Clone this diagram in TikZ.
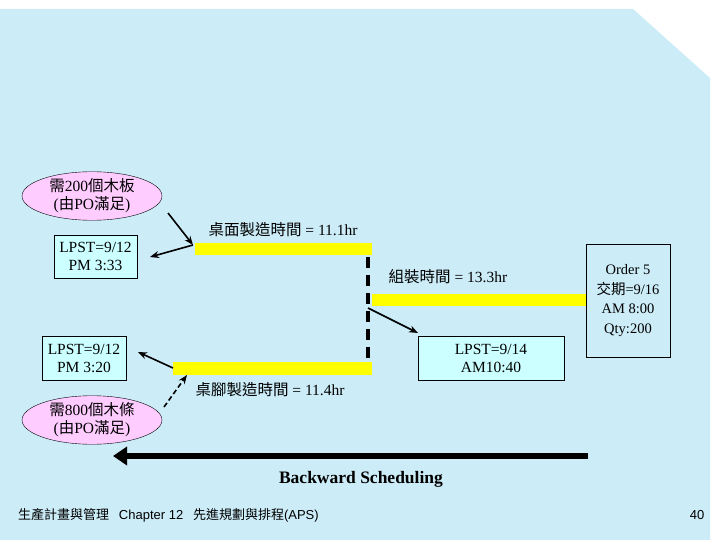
\documentclass[tikz,border=0pt]{standalone}
\usepackage{fontspec}
\setmainfont{Liberation Serif}
\newfontfamily\cjk{Noto Sans CJK TC}
\newfontfamily\ftsans{Liberation Sans}
\usetikzlibrary{shapes.geometric,arrows.meta}
\definecolor{bg}{HTML}{CCECF7}
\definecolor{pinkf}{HTML}{FFCCFF}
\definecolor{cyanf}{HTML}{CCFFFF}
\definecolor{yel}{HTML}{FFFF00}
\begin{document}
\begin{tikzpicture}[x=1pt,y=-1pt,
  lbl/.style={font=\fontsize{15.5}{18}\selectfont, inner sep=0pt},
  oval/.style={ellipse, draw, fill=pinkf, minimum width=140pt, minimum height=42pt, inner sep=0pt, align=center, font=\fontsize{15.5}{18}\selectfont},
  tbox/.style={draw, fill=cyanf, align=center, inner sep=0pt, font=\fontsize{15.5}{18}\selectfont},
  bar/.style={fill=yel},
  arr/.style={-{Stealth[length=9pt,width=7pt]}, line width=1.6pt}]
\useasboundingbox (0,0) rectangle (720,540);
\fill[white] (0,0) rectangle (720,540);
\fill[bg] (0,9) -- (633,9) -- (710,78) -- (710,540) -- (0,540) -- cycle;
% bars
\fill[bar] (195,243) rectangle (372,255);
\fill[bar] (372,294) rectangle (587,306);
\fill[bar] (173,362) rectangle (372,375);
\draw[line width=4pt, dash pattern=on 11pt off 7pt] (368,257) -- (368,362);
% nodes
\node[oval] (e1) at (92,196) {{\cjk 需}200{\cjk 個木板}\\({\cjk 由}PO{\cjk 滿足})};
\node[oval] (e2) at (92,420) {{\cjk 需}800{\cjk 個木條}\\({\cjk 由}PO{\cjk 滿足})};
\node[tbox, minimum width=83pt, minimum height=43pt] (b1) at (95.5,256.5) {LPST=9/12\\PM 3:33};
\node[tbox, minimum width=84pt, minimum height=44pt] (b2) at (84,358) {LPST=9/12\\PM 3:20};
\node[tbox, minimum width=146pt, minimum height=44pt] (b3) at (491,358) {LPST=9/14\\AM10:40};
\node[tbox, fill=bg, minimum width=84pt, minimum height=113pt, font=\fontsize{14.5}{19.5}\selectfont] (b4) at (628,300.5) {Order 5\\{\cjk 交期}=9/16\\AM 8:00\\Qty:200};
\node[lbl] (t1) at (283,230) {{\cjk 桌面製造時間} = 11.1hr};
\node[lbl] (t2) at (448,277) {{\cjk 組裝時間} = 13.3hr};
\node[lbl] (t3) at (270,390) {{\cjk 桌腳製造時間} = 11.4hr};
\coordinate (p1) at (193,245);
\coordinate (p2) at (173,368);
\coordinate (p3) at (187,375);
\coordinate (p4) at (368,308);
\coordinate (as) at (588,456);
\coordinate (ae) at (113,456);
\draw[arr] (168,213) -- (p1);
\draw[arr] (p1) -- (150,257);
\draw[arr] (p2) -- (138,352);
\draw[arr, dash pattern=on 5pt off 3pt] (164,407) -- (p3);
\draw[arr] (p4) -- (418,333);
\draw[line width=6pt, -{Triangle[length=14pt,width=18pt]}] (as) -- (ae);
\node[lbl, font=\bfseries\fontsize{17.5}{20}\selectfont] (bs) at (361,479) {Backward Scheduling};
\node[anchor=west, inner sep=0pt, font=\fontsize{13}{15}\selectfont] (ft) at (18,515) {{\cjk 生產計畫與管理}\ \ \ {\ftsans Chapter 12}\ \ \ {\cjk 先進規劃與排程}{\ftsans (APS)}};
\node[inner sep=0pt, font=\ftsans\fontsize{13}{15}\selectfont] (pg) at (697,515) {40};
\end{tikzpicture}
\end{document}
